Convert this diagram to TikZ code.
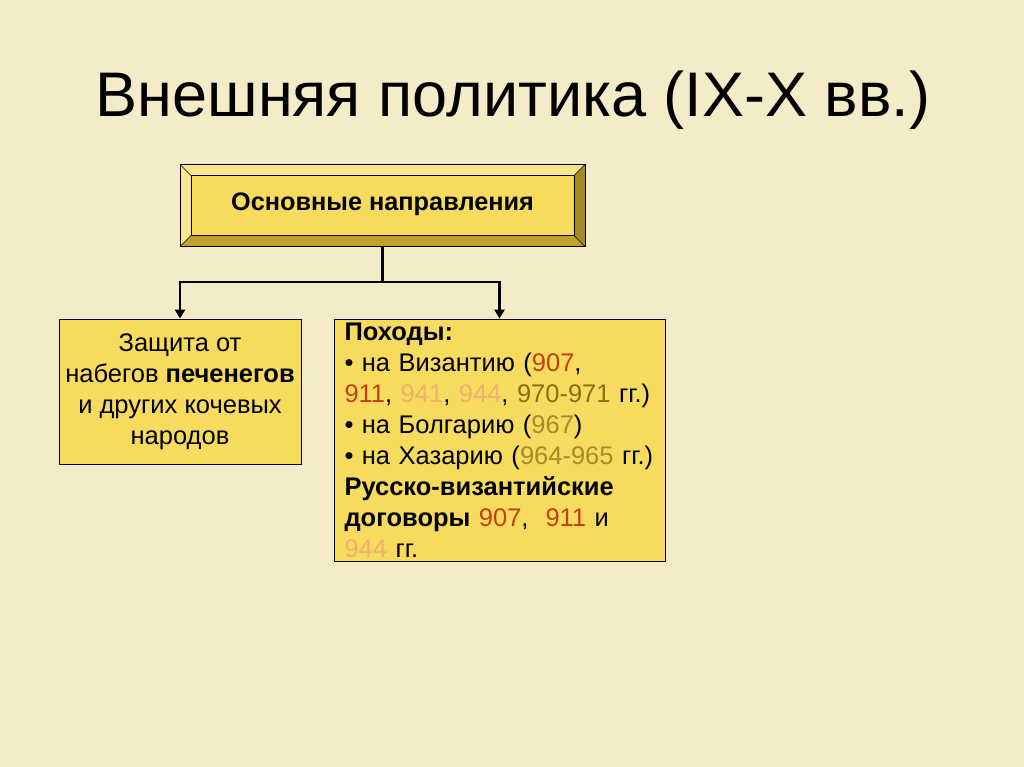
\documentclass[tikz,border=0pt]{standalone}
\usepackage{fontspec}
\setmainfont{Liberation Sans}
\usetikzlibrary{arrows.meta}
\definecolor{bg}{HTML}{F4EBC9}
\definecolor{boxfill}{HTML}{F7DB5E}
\definecolor{bevlight}{HTML}{F9E78E}
\definecolor{bevdark}{HTML}{BFA22C}
\definecolor{yr}{HTML}{C2410F}
\definecolor{yp}{HTML}{F0B070}
\definecolor{yo}{HTML}{8E6C12}
\definecolor{yg}{HTML}{A88A2C}
\tikzset{
  x=1pt, y=-1pt,
  conn/.style={line width=2.4pt, black},
  arr/.style={conn, -{Triangle[width=10pt,length=9pt]}},
  flatbox/.style={draw=black, line width=0.8pt, fill=boxfill, inner sep=0pt},
  bodyfont/.style={font=\fontsize{25.5}{31}\selectfont},
}
\begin{document}
\begin{tikzpicture}
\fill[bg] (0,0) rectangle (1024,767);
\useasboundingbox (0,0) rectangle (1024,767);

\node[font=\fontsize{63}{72}\selectfont] (title) at (513,100) {Внешняя политика (IX-X вв.)};

% top bevelled box
\node[draw=black, line width=0.8pt, fill=boxfill, minimum width=404pt, minimum height=81pt, inner sep=0pt] (top) at (382.5,205.5) {};
\fill[bevlight] (top.north west) -- (top.north east) -- ([shift={(-11pt,-11pt)}]top.north east) -- ([shift={(11pt,-11pt)}]top.north west) -- cycle;
\fill[bevlight] (top.north west) -- ([shift={(11pt,-11pt)}]top.north west) -- ([shift={(11pt,11pt)}]top.south west) -- (top.south west) -- cycle;
\fill[bevdark] (top.south west) -- ([shift={(11pt,11pt)}]top.south west) -- ([shift={(-11pt,11pt)}]top.south east) -- (top.south east) -- cycle;
\fill[bevdark!85!black] (top.north east) -- (top.south east) -- ([shift={(-11pt,11pt)}]top.south east) -- ([shift={(-11pt,-11pt)}]top.north east) -- cycle;
\draw[black, line width=0.8pt] (top.north west) rectangle (top.south east);
\draw[black, line width=0.8pt] ([shift={(11pt,-11pt)}]top.north west) rectangle ([shift={(-11pt,11pt)}]top.south east);
\draw[black, line width=0.5pt] (top.north west) -- ([shift={(11pt,-11pt)}]top.north west)
  (top.north east) -- ([shift={(-11pt,-11pt)}]top.north east)
  (top.south west) -- ([shift={(11pt,11pt)}]top.south west)
  (top.south east) -- ([shift={(-11pt,11pt)}]top.south east);
\node[font=\bfseries\fontsize{25.3}{30}\selectfont] (toptext) at ([yshift=1pt]top.center) {Основные направления};

% lower boxes
\node[flatbox, minimum width=242pt, minimum height=145pt, align=center, bodyfont] (left) at (180,391.5)
  {Защита от\\набегов \textbf{печенегов}\\и других кочевых\\народов};

\node[flatbox, minimum width=331pt, minimum height=242pt, text width=310pt, align=left, bodyfont] (right) at (499.5,440)
  {\textbf{Походы:}\\
   • на Византию (\textcolor{yr}{907},\\
   \textcolor{yr}{911}, \textcolor{yp}{941}, \textcolor{yp}{944}, \textcolor{yo}{970-971} гг.)\\
   • на Болгарию (\textcolor{yg}{967})\\
   • на Хазарию (\textcolor{yg}{964-965} гг.)\\
   \textbf{Русско-византийские}\\
   \textbf{договоры} \textcolor{yr}{907},\ \ \textcolor{yr}{911} и\\
   \textcolor{yp}{944} гг.};

% connectors
\coordinate (bar) at (382.5,282);
\draw[conn] (top.south) -- (bar);
\draw[arr] ([xshift=1.2pt]bar) -| (left.north);
\draw[arr] ([xshift=-1.2pt]bar) -| (right.north);
\end{tikzpicture}
\end{document}
